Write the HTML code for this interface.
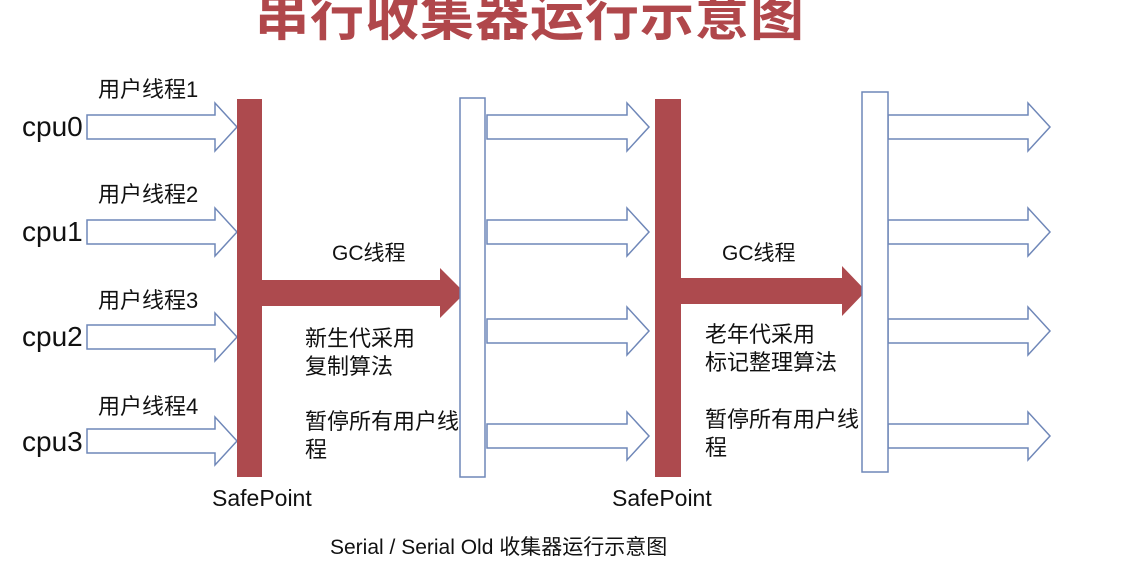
<!DOCTYPE html>
<html><head><meta charset="utf-8"><style>
body{margin:0;background:#fff;width:1128px;height:570px;overflow:hidden;position:relative;font-family:"Liberation Sans","Noto Sans CJK SC",sans-serif;}
.t{position:absolute;white-space:nowrap;color:#111;line-height:1;}
</style></head><body>
<div class="t" style="left:255px;top:-10px;font-size:54px;font-weight:bold;color:#b0474b;letter-spacing:1px">串行收集器运行示意图</div>
<svg width="1128" height="570" style="position:absolute;left:0;top:0">
<defs>
<g id="ba"><path d="M0,-12 H128 V-24 L150,0 L128,24 V12 H0 Z" fill="#fff" stroke="#6f87b8" stroke-width="1.5"/></g>
<g id="bb"><path d="M0,-12 H140 V-24 L162,0 L140,24 V12 H0 Z" fill="#fff" stroke="#6f87b8" stroke-width="1.5"/></g>
</defs>
<use href="#ba" x="87" y="127"/><use href="#ba" x="87" y="232"/><use href="#ba" x="87" y="337"/><use href="#ba" x="87" y="441"/>
<use href="#bb" x="487" y="127"/><use href="#bb" x="487" y="232"/><use href="#bb" x="487" y="331"/><use href="#bb" x="487" y="436"/>
<use href="#bb" x="888" y="127"/><use href="#bb" x="888" y="232"/><use href="#bb" x="888" y="331"/><use href="#bb" x="888" y="436"/>
<rect x="237" y="99" width="25" height="378" fill="#ad4a4e"/>
<path d="M262,280 H440 V268 L465,293 L440,318 V306 H262 Z" fill="#ad4a4e"/>
<rect x="655" y="99" width="26" height="378" fill="#ad4a4e"/>
<path d="M681,278 H842 V266 L866,291 L842,316 V304 H681 Z" fill="#ad4a4e"/>
<rect x="460" y="98" width="25" height="379" fill="#fff" stroke="#6f87b8" stroke-width="1.5"/>
<rect x="862" y="92" width="26" height="380" fill="#fff" stroke="#6f87b8" stroke-width="1.5"/>
</svg>
<div class="t" style="left:98px;top:79px;font-size:22px">用户线程1</div>
<div class="t" style="left:98px;top:184px;font-size:22px">用户线程2</div>
<div class="t" style="left:98px;top:290px;font-size:22px">用户线程3</div>
<div class="t" style="left:98px;top:396px;font-size:22px">用户线程4</div>
<div class="t" style="left:22px;top:113px;font-size:28px">cpu0</div>
<div class="t" style="left:22px;top:218px;font-size:28px">cpu1</div>
<div class="t" style="left:22px;top:323px;font-size:28px">cpu2</div>
<div class="t" style="left:22px;top:428px;font-size:28px">cpu3</div>
<div class="t" style="left:332px;top:243px;font-size:21px">GC线程</div>
<div class="t" style="left:305px;top:325px;font-size:22px;line-height:28px">新生代采用<br>复制算法</div>
<div class="t" style="left:305px;top:408px;font-size:22px;line-height:28px">暂停所有用户线<br>程</div>
<div class="t" style="left:722px;top:243px;font-size:21px">GC线程</div>
<div class="t" style="left:705px;top:321px;font-size:22px;line-height:28px">老年代采用<br>标记整理算法</div>
<div class="t" style="left:705px;top:406px;font-size:22px;line-height:28px">暂停所有用户线<br>程</div>
<div class="t" style="left:212px;top:487px;font-size:23px">SafePoint</div>
<div class="t" style="left:612px;top:487px;font-size:23px">SafePoint</div>
<div class="t" style="left:330px;top:537px;font-size:21px">Serial / Serial Old 收集器运行示意图</div>
</body></html>
